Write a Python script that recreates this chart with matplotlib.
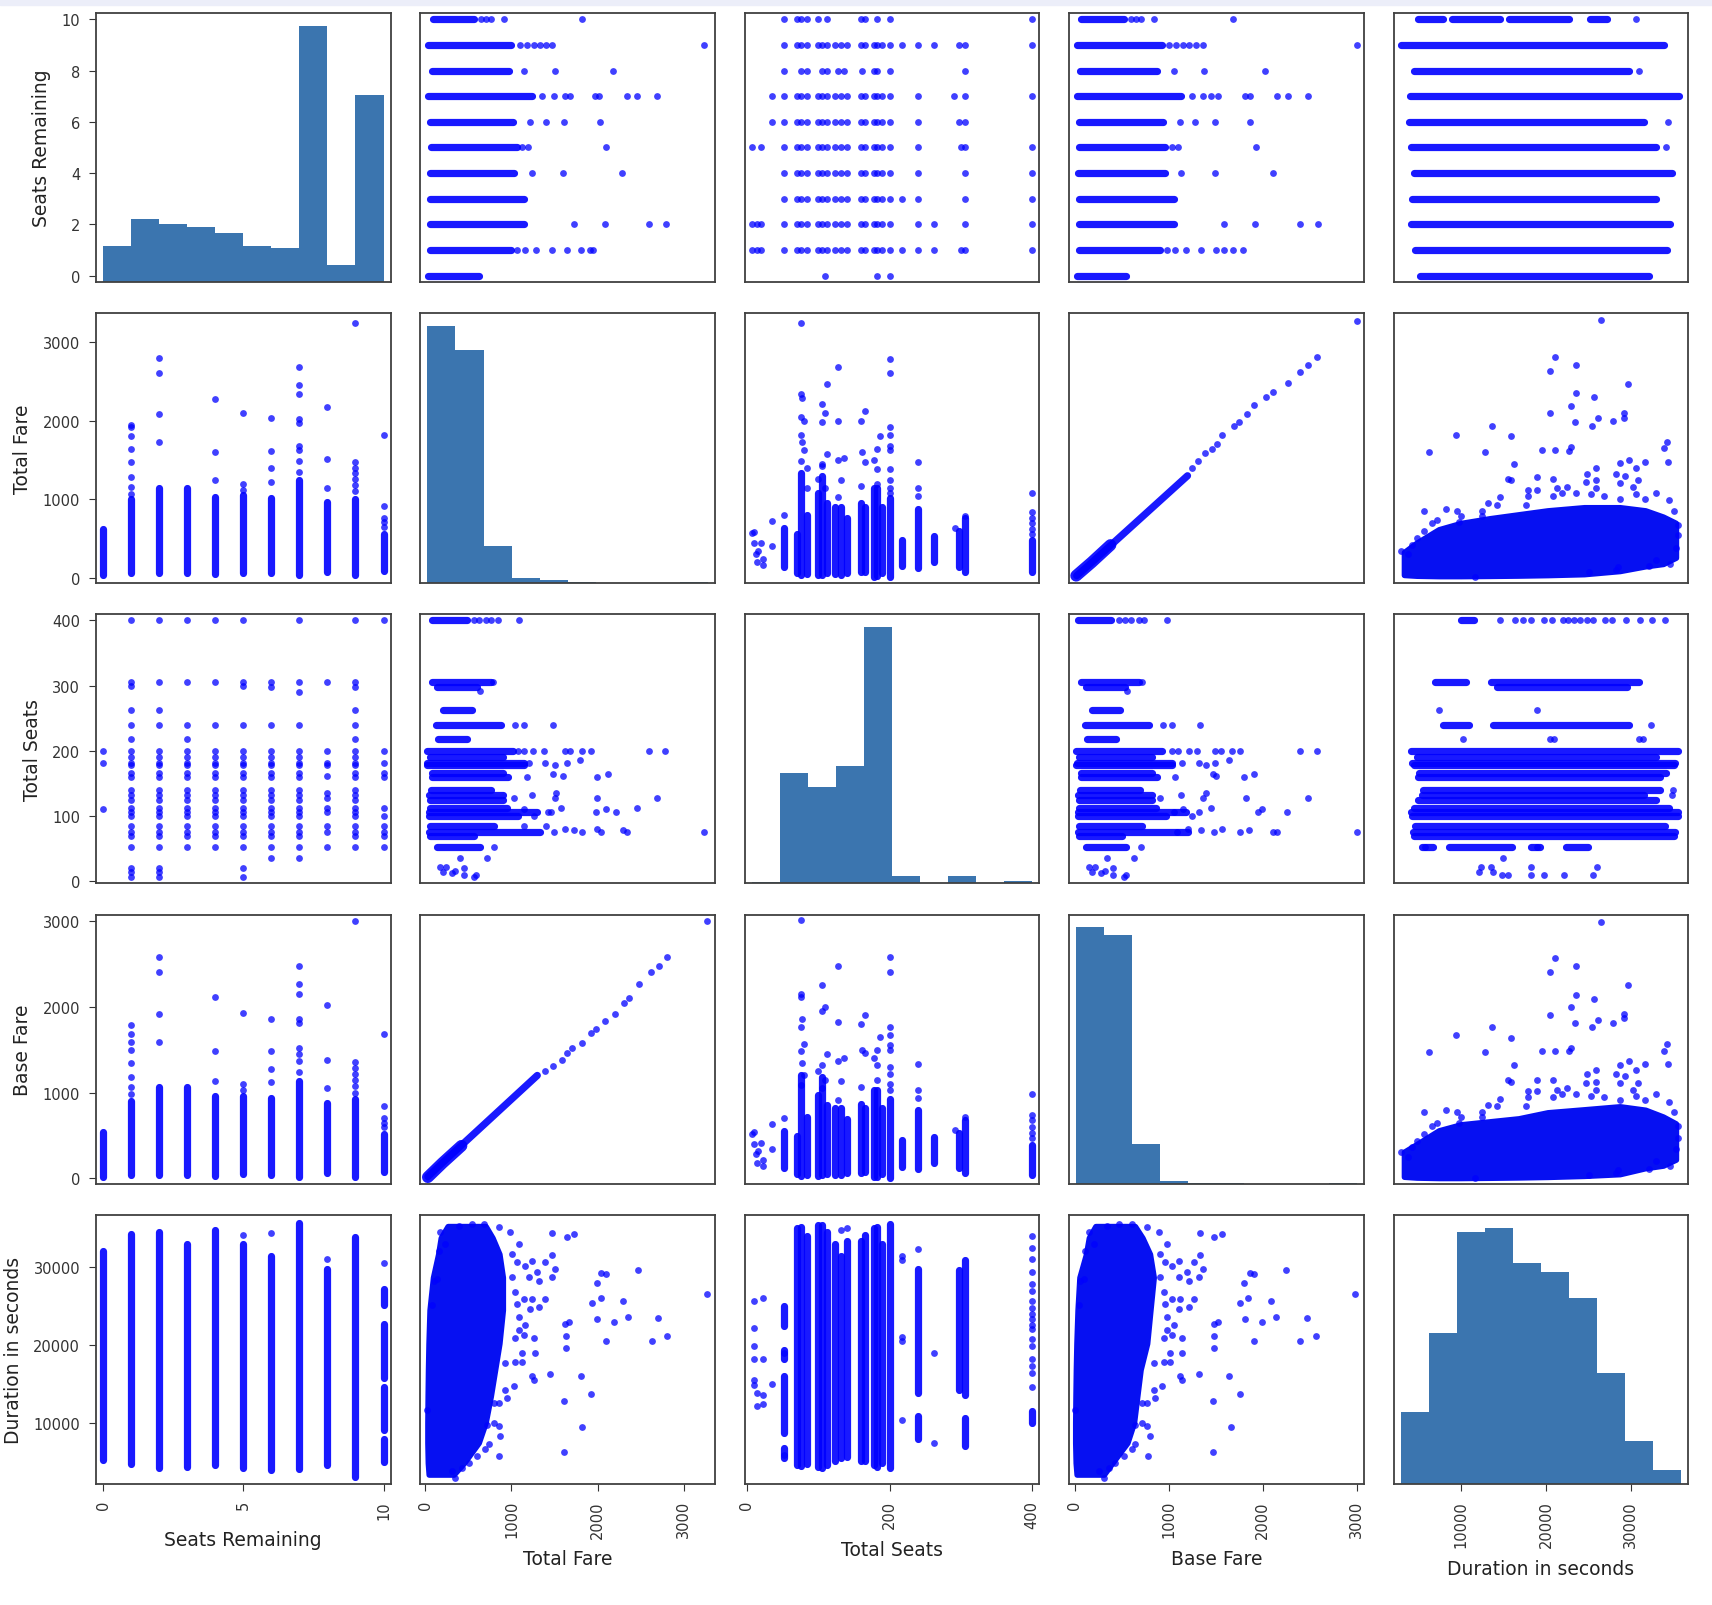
import numpy as np
import matplotlib.pyplot as plt
from matplotlib.patches import Rectangle

BLUE = "#0000ff"
CORE = "#0610f2"
BAR = "#3b75af"

names = ["Seats Remaining", "Total Fare", "Total Seats", "Base Fare", "Duration in seconds"]
v_min = [0, 25, 7, 15, 2900]
v_max = [10, 3280, 400, 3000, 35900]
x_ticks = [[0, 5, 10], [0, 1000, 2000, 3000], [0, 200, 400], [0, 1000, 2000, 3000], [10000, 20000, 30000]]
y_ticks = [[0, 2, 4, 6, 8, 10], [0, 1000, 2000, 3000], [0, 100, 200, 300, 400], [0, 1000, 2000, 3000], [10000, 20000, 30000]]

# diagonal histograms: 10 equal bins between v_min and v_max, relative counts
hist_seats = [142, 244, 228, 213, 190, 142, 134, 1000, 65, 728]
hist_fare = [1000, 907, 144, 17, 8, 1, 0, 0, 0, 1]
hist_tseats = [3, 430, 375, 455, 1000, 26, 1, 26, 0, 9]
hist_base = [1000, 970, 153, 9, 2, 1, 0, 0, 0, 1]
hist_dur = [282, 590, 983, 1000, 863, 829, 726, 432, 167, 56]

# --- by seats remaining ---
seats = [0, 1, 2, 3, 4, 5, 6, 7, 8, 9, 10]
fare_lo_s = [35, 60, 60, 60, 50, 70, 60, 35, 80, 35, 90]
fare_hi_s = [620, 1000, 1150, 1150, 1030, 1060, 1020, 1240, 970, 1000, 560]
fare_pts_s = [[], [1070, 1160, 1290, 1470, 1640, 1810, 1915, 1950], [1725, 2085, 2600, 2795], [],
              [1240, 1600, 2280], [1120, 1190, 2100], [1220, 1400, 1615, 2030],
              [1350, 1490, 1625, 1675, 1970, 2020, 2340, 2455, 2685], [1150, 1510, 2175],
              [1100, 1180, 1260, 1330, 1400, 1470, 3240], [650, 710, 760, 910, 1820]]
base_lo_s = [20, 40, 40, 40, 30, 50, 40, 20, 60, 20, 70]
base_hi_s = [545, 905, 1060, 1060, 960, 960, 940, 1135, 875, 930, 520]
base_pts_s = [[], [985, 1065, 1180, 1340, 1500, 1590, 1680, 1790], [1590, 1915, 2400, 2585], [],
              [1135, 1490, 2110], [1030, 1095, 1930], [1120, 1280, 1490, 1860],
              [1245, 1370, 1450, 1520, 1810, 1860, 2150, 2265, 2480], [1055, 1375, 2020],
              [1000, 1080, 1150, 1220, 1290, 1360, 3000], [600, 650, 700, 840, 1685]]
dur_seg_s = [[(5150, 32150)], [(4600, 34260)], [(4180, 34600)], [(4300, 33000)], [(4520, 34800)],
             [(4180, 33000)], [(3900, 31500)], [(4000, 35650)], [(4520, 29750)], [(2950, 33840)],
             [(4950, 7900), (9000, 14600), (15700, 22700), (25200, 27200)]]
dur_pts_s = [[], [], [], [], [], [34180], [34400], [], [31000], [], [30600]]
tseats_s = [
    [110, 182, 200],
    [7, 14, 20, 52, 70, 76, 85, 100, 106, 112, 124, 132, 140, 160, 166, 178, 182, 190, 200, 218, 240, 262, 300, 306, 400],
    [7, 14, 20, 52, 70, 76, 85, 100, 106, 112, 124, 132, 140, 160, 166, 178, 182, 190, 200, 240, 262, 306, 400],
    [52, 70, 76, 85, 100, 106, 112, 124, 132, 140, 160, 166, 178, 182, 190, 200, 218, 240, 306, 400],
    [52, 70, 76, 85, 100, 106, 112, 124, 132, 140, 160, 166, 178, 182, 190, 200, 240, 306, 400],
    [7, 20, 52, 70, 76, 85, 100, 106, 112, 124, 132, 140, 160, 166, 178, 182, 190, 200, 240, 300, 306, 400],
    [35, 52, 70, 76, 85, 100, 106, 112, 124, 132, 140, 160, 166, 178, 182, 190, 200, 240, 298, 306],
    [35, 52, 70, 76, 85, 100, 106, 112, 124, 132, 140, 160, 166, 178, 182, 190, 200, 240, 290, 306, 400],
    [52, 76, 85, 106, 112, 128, 136, 162, 178, 182, 200, 306],
    [52, 70, 76, 85, 100, 106, 112, 124, 132, 140, 160, 166, 178, 182, 190, 200, 218, 240, 262, 298, 306, 400],
    [52, 70, 76, 85, 100, 112, 160, 166, 182, 200, 400],
]

# --- by total seats ---
tseat_lv = [52, 70, 76, 85, 100, 106, 112, 124, 132, 140, 160, 166, 178, 182, 190, 200, 218, 240, 262, 298, 306, 400]
fare_lo_t = [140, 60, 40, 50, 40, 45, 60, 50, 45, 70, 75, 80, 20, 25, 60, 15, 150, 125, 200, 140, 75, 75]
fare_hi_t = [640, 560, 1330, 800, 1080, 1300, 950, 900, 900, 760, 960, 900, 1140, 1140, 900, 1015, 480, 880, 540, 600, 765, 480]
base_lo_t = [120, 50, 30, 40, 30, 35, 50, 40, 35, 60, 65, 70, 15, 20, 50, 10, 130, 110, 180, 120, 65, 35]
base_hi_t = [550, 500, 1200, 720, 970, 1180, 860, 820, 820, 690, 870, 820, 1030, 1030, 820, 930, 444, 795, 480, 530, 680, 385]
fare_pts_t = [(22, 170), (22, 240), (16, 350), (10, 445), (20, 445), (7, 570), (13, 310), (35, 405), (35, 720),
              (10, 590), (14, 200), (52, 800), (76, 1490), (80, 1625), (78, 1725), (76, 1820), (80, 1995),
              (76, 2045), (78, 2290), (76, 2340), (76, 3240), (85, 1400), (85, 1150), (106, 1430), (110, 1140),
              (100, 1260), (106, 1455), (112, 1575), (106, 1980), (110, 2095), (106, 2215), (112, 2460),
              (128, 1035), (132, 1240), (128, 1500), (136, 1520), (128, 1990), (128, 2685), (160, 1175),
              (165, 1478), (162, 1600), (160, 1995), (165, 2118), (182, 1200), (182, 1390), (178, 1500),
              (182, 1645), (186, 1800), (200, 1080), (200, 1150), (200, 1250), (200, 1380), (200, 1625),
              (200, 1675), (200, 1820), (200, 1920), (200, 2600), (200, 2785), (240, 1045), (240, 1140),
              (240, 1478), (292, 630), (306, 790), (400, 560), (400, 620), (400, 700), (400, 760), (400, 840),
              (400, 1085)]
base_pts_t = [(22, 150), (22, 210), (16, 320), (10, 405), (20, 410), (7, 520), (13, 280), (35, 344), (35, 631),
              (10, 540), (14, 180), (52, 706), (76, 1088), (80, 1205), (78, 1339), (76, 1480), (80, 1567),
              (76, 1760), (78, 1859), (76, 2111), (76, 2152), (76, 3005), (106, 1058), (110, 1150), (100, 1250),
              (106, 1321), (112, 1450), (106, 1952), (110, 1993), (106, 2257), (128, 912), (132, 1134),
              (128, 1368), (136, 1400), (128, 1818), (128, 2480), (160, 1070), (165, 1467), (162, 1500),
              (160, 1800), (165, 1905), (182, 1146), (182, 1321), (178, 1400), (182, 1496), (186, 1642),
              (200, 1030), (200, 1100), (200, 1215), (200, 1300), (200, 1496), (200, 1560), (200, 1672),
              (200, 1760), (200, 2400), (200, 2578), (240, 940), (240, 1030), (240, 1333), (292, 560),
              (306, 720), (400, 470), (400, 530), (400, 600), (400, 680), (400, 735), (400, 981)]
dur_seg_t = [[(5400, 6700), (8600, 16000), (18200, 19300), (22400, 25000)], [(4500, 35100)], [(4400, 35200)],
             [(4600, 34000)], [(4300, 35500)], [(4100, 35500)], [(4500, 34500)], [(5000, 33000)],
             [(5400, 31500)], [(5500, 33400)], [(5000, 33400)], [(5100, 34100)], [(4500, 35100)],
             [(4300, 35200)], [(4800, 33000)], [(4100, 35600)], [], [(7900, 10900), (13800, 29800)], [],
             [(14200, 29600)], [(7000, 10600), (13500, 30900)], [(10000, 11500)]]
dur_pts_t = [(218, 10300), (218, 20500), (218, 21000), (218, 30900), (218, 31400), (240, 32400), (262, 7400),
             (262, 19000), (132, 34800), (140, 35000), (10, 19800), (10, 22150), (10, 25600), (10, 18200),
             (10, 15500), (10, 14850), (14, 13800), (14, 12100), (22, 26000), (22, 18200), (22, 13500),
             (22, 12400), (35, 14900), (52, 5800), (52, 18900), (400, 14600), (400, 16400), (400, 17300),
             (400, 18200), (400, 19800), (400, 20700), (400, 22000), (400, 22600), (400, 23300), (400, 24000),
             (400, 24800), (400, 25600), (400, 27000), (400, 27800), (400, 29400), (400, 31100), (400, 32500),
             (400, 34000)]

# --- total fare vs base fare ---
fb_fare = [30, 150, 300, 500, 700, 900, 1100, 1300]
fb_base = [20, 135, 275, 460, 645, 830, 1015, 1200]
fb_core_fare = [30, 200, 420]
fb_core_base = [15, 180, 380]
fb_pts = [(1394, 1246), (1488, 1314), (1583, 1382), (1646, 1463), (1708, 1518), (1822, 1572), (1928, 1699),
          (1978, 1744), (2085, 1835), (2198, 1912), (2305, 2039), (2368, 2107), (2481, 2265), (2619, 2401),
          (2713, 2478), (2808, 2583), (3266, 3000)]

# --- fares vs duration: dense core (by duration) plus fringe and outlier points ---
core_dur = [3300, 4800, 7400, 10000, 13400, 16800, 20200, 24500, 28700, 31700, 33800, 35300]
fd_lo = [40, 30, 25, 25, 28, 32, 38, 50, 90, 150, 180, 260]
fd_hi = [330, 450, 620, 700, 760, 810, 860, 900, 900, 860, 780, 700]
bd_lo = [20, 10, 5, 5, 8, 12, 18, 30, 50, 120, 150, 220]
bd_hi = [310, 400, 560, 630, 665, 700, 770, 805, 840, 800, 720, 640]
fd_pts = [(34350, 1473), (33840, 1647), (34260, 1725), (29230, 2035), (29150, 2093), (27950, 1996), (25400, 1938),
          (26080, 2035), (25650, 2295), (29660, 2469), (26500, 3275), (23390, 1988), (22960, 2190), (23600, 2353),
          (23520, 2705), (21130, 2810), (20490, 2628), (20490, 2093), (22750, 1620), (22960, 1667), (21130, 1628),
          (19550, 1628), (16270, 1453), (15930, 1810), (13710, 1926), (12810, 1605), (9450, 1822), (6250, 1605),
          (34600, 174), (35330, 388), (35540, 543), (35540, 678), (35120, 853), (34480, 988), (32990, 1085),
          (31700, 1008), (30640, 1066), (30210, 1163), (30850, 1240), (30640, 1395), (31620, 1473), (29790, 1504),
          (28720, 1465), (28720, 1008), (28720, 1202), (29360, 1298), (28290, 1318), (26800, 1047), (25950, 1143),
          (25950, 1240), (25950, 1395), (24880, 1318), (24670, 1221), (25310, 1066), (23600, 1085), (22540, 1163),
          (21900, 1085), (20830, 1260), (20830, 1047), (21260, 1143), (18910, 1279), (18910, 1124), (17850, 1047),
          (17630, 930), (17850, 1124), (15930, 1240), (15500, 1260), (14650, 1027), (14220, 930), (12520, 795),
          (13160, 950), (12520, 853), (9960, 795), (9530, 853), (9740, 717), (8250, 872), (7200, 736), (6630, 698),
          (5690, 853), (5690, 600), (4840, 504), (4200, 426), (2920, 349), (3770, 310), (11660, 19), (25100, 78),
          (28290, 97), (28500, 136), (32130, 155), (32990, 233)]
bd_pts = [(34350, 1330), (33840, 1486), (34260, 1567), (29230, 1869), (29150, 1911), (27950, 1805), (25400, 1762),
          (26080, 1844), (25650, 2089), (29660, 2252), (26500, 2986), (23390, 1809), (22960, 1993), (23600, 2142),
          (23520, 2472), (21130, 2571), (20490, 2401), (20490, 1904), (22750, 1486), (22960, 1521), (21130, 1486),
          (19550, 1486), (16270, 1319), (15930, 1638), (13710, 1762), (12810, 1468), (9450, 1667), (6250, 1468),
          (5690, 777), (34600, 149), (35330, 344), (35540, 468), (35540, 610), (35120, 770), (34480, 894),
          (32990, 982), (31700, 911), (30640, 965), (30210, 1035), (30850, 1106), (30640, 1266), (31620, 1337),
          (29790, 1365), (28720, 1319), (28720, 911), (28720, 1106), (29360, 1195), (28290, 1213), (26800, 947),
          (25950, 1035), (25950, 1124), (25950, 1266), (24880, 1213), (24670, 1106), (25310, 965), (23600, 982),
          (22540, 1053), (21900, 982), (20830, 1142), (20830, 947), (21260, 1035), (18910, 1142), (18910, 1018),
          (17850, 947), (17630, 840), (17850, 1018), (15930, 1124), (15500, 1142), (14650, 929), (14220, 840),
          (12520, 716), (13160, 858), (12520, 770), (9960, 716), (9530, 770), (9740, 645), (8250, 798),
          (7200, 645), (6630, 610), (5690, 521), (4840, 433), (4200, 362), (2920, 309), (3770, 255), (11660, 5),
          (25100, 43), (28290, 60), (28500, 96), (32130, 113), (32990, 202)]


def seg(ax, a0, a1, b0, b1, flip, lw=5.2):
    xs, ys = ([b0, b1], [a0, a1]) if flip else ([a0, a1], [b0, b1])
    ax.plot(xs, ys, color=BLUE, lw=lw, alpha=0.9, solid_capstyle="round", zorder=2)


def dots(ax, a, b, flip):
    xs, ys = (b, a) if flip else (a, b)
    ax.scatter(xs, ys, s=24, color=BLUE, alpha=0.75, linewidths=0, zorder=3)


def by_seat(ax, lo_l, hi_l, pts_l, flip):
    for s, lo, hi, pts in zip(seats, lo_l, hi_l, pts_l):
        seg(ax, s, s, lo, hi, flip)
        if pts:
            dots(ax, [s] * len(pts), pts, flip)


def p_seats_fare(ax, flip):
    by_seat(ax, fare_lo_s, fare_hi_s, fare_pts_s, flip)


def p_seats_base(ax, flip):
    by_seat(ax, base_lo_s, base_hi_s, base_pts_s, flip)


def p_seats_tseats(ax, flip):
    for s, ts in zip(seats, tseats_s):
        dots(ax, [s] * len(ts), ts, flip)


def p_seats_dur(ax, flip):
    for s, segs, pts in zip(seats, dur_seg_s, dur_pts_s):
        for lo, hi in segs:
            seg(ax, s, s, lo, hi, flip)
        if pts:
            dots(ax, [s] * len(pts), pts, flip)


def p_fare_tseats(ax, flip):
    # a = fare, b = total seats
    for t, lo, hi in zip(tseat_lv, fare_lo_t, fare_hi_t):
        seg(ax, lo, hi, t, t, flip)
    t, f = zip(*fare_pts_t)
    dots(ax, f, t, flip)


def p_tseats_base(ax, flip):
    # a = total seats, b = base fare
    for t, lo, hi in zip(tseat_lv, base_lo_t, base_hi_t):
        seg(ax, t, t, lo, hi, flip)
    t, b = zip(*base_pts_t)
    dots(ax, t, b, flip)


def p_tseats_dur(ax, flip):
    for t, segs in zip(tseat_lv, dur_seg_t):
        for lo, hi in segs:
            seg(ax, t, t, lo, hi, flip)
    t, d = zip(*dur_pts_t)
    dots(ax, t, d, flip)


def p_fare_base(ax, flip):
    xs, ys = (fb_base, fb_fare) if flip else (fb_fare, fb_base)
    ax.plot(xs, ys, color=BLUE, lw=5.2, alpha=0.9, solid_capstyle="round", zorder=2)
    xs, ys = (fb_core_base, fb_core_fare) if flip else (fb_core_fare, fb_core_base)
    ax.plot(xs, ys, color=BLUE, lw=8.5, alpha=0.9, solid_capstyle="round", zorder=2)
    f, b = zip(*fb_pts)
    dots(ax, f, b, flip)


def blob(ax, lo, hi, pts, flip):
    # a = fare, b = duration
    kw = dict(facecolor=CORE, edgecolor=CORE, lw=4, joinstyle="round", zorder=2)
    if flip:
        ax.fill_between(core_dur, lo, hi, **kw)
    else:
        ax.fill_betweenx(core_dur, lo, hi, **kw)
    d, v = zip(*pts)
    dots(ax, v, d, flip)


def p_fare_dur(ax, flip):
    blob(ax, fd_lo, fd_hi, fd_pts, flip)


def p_base_dur(ax, flip):
    blob(ax, bd_lo, bd_hi, bd_pts, flip)


pairs = {(0, 1): p_seats_fare, (0, 2): p_seats_tseats, (0, 3): p_seats_base, (0, 4): p_seats_dur,
         (1, 2): p_fare_tseats, (1, 3): p_fare_base, (1, 4): p_fare_dur,
         (2, 3): p_tseats_base, (2, 4): p_tseats_dur, (3, 4): p_base_dur}
hists = [hist_seats, hist_fare, hist_tseats, hist_base, hist_dur]


def lims(k):
    pad = (v_max[k] - v_min[k]) * 0.025
    return v_min[k] - pad, v_max[k] + pad


fig, axes = plt.subplots(5, 5, figsize=(17.12, 16.06), dpi=100)
fig.subplots_adjust(left=0.0561, right=0.986, bottom=0.0753, top=0.9913, wspace=0.1015, hspace=0.117)
fig.patches.append(Rectangle((0, 1 - 6 / 1606), 1, 6 / 1606, transform=fig.transFigure,
                             color="#eceef9", zorder=0))

for r in range(5):
    for c in range(5):
        ax = axes[r][c]
        if r == c:
            edges = np.linspace(v_min[r], v_max[r], 11)
            ax.hist((edges[:-1] + edges[1:]) / 2, bins=edges, weights=hists[r], color=BAR)
        elif r > c:
            pairs[(c, r)](ax, False)
        else:
            pairs[(r, c)](ax, True)
        ax.set_xlim(lims(c))
        if r != c:
            ax.set_ylim(lims(r))
        for sp in ax.spines.values():
            sp.set_color("#404040")
            sp.set_linewidth(1.3)
        ax.tick_params(labelsize=10.5, colors="#333333", length=5, pad=6.5)
        if r == 4:
            ax.set_xticks(x_ticks[c])
            ax.set_xticklabels([str(v) for v in x_ticks[c]], rotation=90)
            ax.set_xlabel(names[c], fontsize=13.5, color="#222222", labelpad=8.5)
        else:
            ax.xaxis.set_visible(False)
        if c == 0:
            ax.set_ylabel(names[r], fontsize=13.5, color="#222222", labelpad=7.5)
            if r == 0:
                y0, y1 = ax.get_ylim()
                lo, hi = lims(0)
                pos = [(v - lo) / (hi - lo) * (y1 - y0) + y0 for v in y_ticks[0]]
                ax.set_yticks(pos)
                ax.set_yticklabels([str(v) for v in y_ticks[0]])
            else:
                ax.set_yticks(y_ticks[r])
                ax.set_yticklabels([str(v) for v in y_ticks[r]])
        else:
            ax.yaxis.set_visible(False)

fig.savefig("out.png", dpi=100)
